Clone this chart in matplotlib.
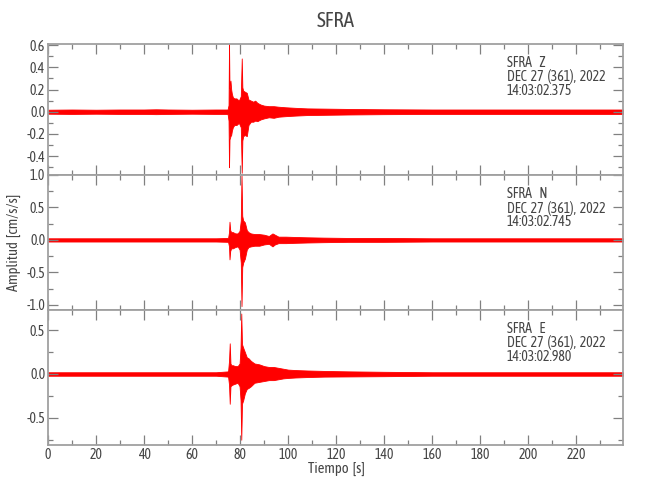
import matplotlib
matplotlib.use("Agg")
import matplotlib.pyplot as plt
from matplotlib import font_manager
from matplotlib.ticker import MultipleLocator, FormatStrFormatter

# pick a narrow font if one is available
_fonts = font_manager.fontManager.ttflist
_names = {f.name for f in _fonts}
font_stretch = 'normal'
if 'Liberation Sans Narrow' in _names:
    font_family = 'Liberation Sans Narrow'
elif any('Condensed' in n for n in _names):
    font_family = sorted(n for n in _names if 'Condensed' in n)[0]
elif any(f.name == 'DejaVu Sans' and f.stretch == 'condensed' for f in _fonts):
    font_family = 'DejaVu Sans'
    font_stretch = 'condensed'
elif 'Roboto' in _names:
    font_family = 'Roboto'
    font_stretch = 'condensed'
else:
    font_family = 'Liberation Sans'
plt.rcParams['font.family'] = [font_family, 'DejaVu Sans']
plt.rcParams['font.stretch'] = font_stretch

# ---------------- data (envelope of each trace) -------------
station = "SFRA"
components = ["Z", "N", "E"]
date_label = "DEC  27  (361),  2022"
start_times = ["14:03:02.375", "14:03:02.745", "14:03:02.980"]

t_z = [0, 10, 20, 30, 40, 45, 50, 60, 70,
       74.8, 75.2, 75.4, 75.6, 76.0, 76.3, 76.6, 77.0, 77.6,
       78.5, 79.5, 80.3, 80.7, 80.95, 81.3, 82.0, 82.8, 83.5,
       84.5, 85.5, 86.3, 87.2, 88.5, 90, 92, 94, 96, 99,
       103, 108, 115, 125, 140, 160, 180, 200, 220, 239.5]
up_z = [0.018, 0.02, 0.018, 0.02, 0.02, 0.022, 0.02, 0.018, 0.02,
        0.02, 0.06, 0.61, 0.21, 0.28, 0.2, 0.16, 0.13, 0.12,
        0.12, 0.1, 0.14, 0.48, 0.22, 0.19, 0.18, 0.17, 0.11,
        0.1, 0.09, 0.1, 0.08, 0.065, 0.055, 0.05, 0.05, 0.045, 0.04,
        0.035, 0.03, 0.028, 0.025, 0.022, 0.02, 0.02, 0.02, 0.02, 0.02]
lo_z = [-0.018, -0.02, -0.018, -0.02, -0.02, -0.022, -0.02, -0.018, -0.02,
        -0.02, -0.08, -0.50, -0.25, -0.22, -0.21, -0.17, -0.14, -0.12,
        -0.12, -0.1, -0.14, -0.55, -0.26, -0.22, -0.21, -0.22, -0.12,
        -0.09, -0.09, -0.08, -0.085, -0.07, -0.06, -0.05, -0.055, -0.045, -0.04,
        -0.035, -0.03, -0.028, -0.025, -0.022, -0.02, -0.02, -0.02, -0.02, -0.02]

t_n = [0, 10, 20, 30, 40, 50, 60, 70,
       75.0, 75.4, 75.6, 75.9, 76.3, 77.0, 78.0, 79.0, 79.8, 80.3,
       80.6, 80.9, 81.3, 82.0, 82.8, 83.5, 84.5, 86, 88, 90,
       92, 93.5, 94.5, 96, 99, 103, 108, 115, 125, 140,
       160, 180, 200, 220, 239.5]
up_n = [0.025, 0.025, 0.025, 0.025, 0.025, 0.025, 0.025, 0.025,
        0.03, 0.12, 0.28, 0.15, 0.12, 0.12, 0.1, 0.1, 0.14, 0.3,
        1.0, 0.37, 0.3, 0.27, 0.15, 0.12, 0.1, 0.09, 0.09, 0.08,
        0.06, 0.1, 0.08, 0.05, 0.05, 0.045, 0.04, 0.035, 0.03, 0.03,
        0.025, 0.025, 0.025, 0.025, 0.025]
lo_n = [-0.025, -0.025, -0.025, -0.025, -0.025, -0.025, -0.025, -0.025,
        -0.03, -0.1, -0.30, -0.17, -0.13, -0.13, -0.11, -0.1, -0.15, -0.35,
        -1.02, -0.42, -0.35, -0.29, -0.15, -0.11, -0.1, -0.09, -0.09, -0.07,
        -0.06, -0.1, -0.07, -0.05, -0.05, -0.045, -0.04, -0.035, -0.03, -0.03,
        -0.025, -0.025, -0.025, -0.025, -0.025]

t_e = [0, 10, 20, 30, 40, 50, 60, 70,
       75.0, 75.4, 75.7, 76.0, 76.4, 77.0, 78.0, 79.0, 79.8, 80.2,
       80.5, 80.8, 81.3, 82.0, 82.8, 83.5, 84.5, 86, 88, 90,
       92, 94, 96, 98, 100, 103, 108, 115, 125, 140,
       160, 180, 200, 220, 239.5]
up_e = [0.02, 0.02, 0.02, 0.02, 0.02, 0.02, 0.02, 0.02,
        0.03, 0.15, 0.35, 0.12, 0.1, 0.1, 0.09, 0.09, 0.12, 0.3,
        0.69, 0.34, 0.3, 0.25, 0.19, 0.18, 0.15, 0.12, 0.11, 0.09,
        0.08, 0.08, 0.07, 0.06, 0.05, 0.045, 0.04, 0.035, 0.03, 0.025,
        0.02, 0.02, 0.02, 0.02, 0.02]
lo_e = [-0.02, -0.02, -0.02, -0.02, -0.02, -0.02, -0.02, -0.02,
        -0.03, -0.12, -0.34, -0.14, -0.13, -0.12, -0.11, -0.1, -0.14, -0.3,
        -0.75, -0.34, -0.3, -0.22, -0.17, -0.16, -0.14, -0.1, -0.09, -0.08,
        -0.07, -0.07, -0.06, -0.05, -0.045, -0.04, -0.035, -0.03, -0.028, -0.025,
        -0.02, -0.02, -0.02, -0.02, -0.02]

ylims = [(-0.57, 0.61), (-1.08, 1.0), (-0.81, 0.73)]
ymajor = [0.2, 0.5, 0.5]
yminor = [0.1, 0.25, 0.25]
xlim = (0, 239.5)

traces = [(t_z, up_z, lo_z), (t_n, up_n, lo_n), (t_e, up_e, lo_e)]

# ---------------- figure ----------------
W, H = 650, 500
fig = plt.figure(figsize=(6.5, 5), dpi=100)
left_px, right_px = 48, 623
bounds_px = [(44, 175), (175, 310), (310, 445)]

axis_col = '#a0a0a0'
text_col = '#454545'

for i, ((t, up, lo), (top, bot)) in enumerate(zip(traces, bounds_px)):
    ax = fig.add_axes([left_px / W, 1 - bot / H, (right_px - left_px) / W, (bot - top) / H])
    ax.fill_between(t, lo, up, color='red', lw=0.6, edgecolor='red')
    ax.set_xlim(*xlim)
    ax.set_ylim(*ylims[i])
    ax.xaxis.set_major_locator(MultipleLocator(20))
    ax.xaxis.set_minor_locator(MultipleLocator(10))
    ax.yaxis.set_major_locator(MultipleLocator(ymajor[i]))
    ax.yaxis.set_minor_locator(MultipleLocator(yminor[i]))
    ax.yaxis.set_major_formatter(FormatStrFormatter('%.1f'))
    ax.tick_params(which='both', direction='in', top=True, right=True,
                   color='#808080', labelcolor=text_col, labelsize=10, pad=2)
    ax.tick_params(which='major', length=7.2, width=0.9)
    ax.tick_params(which='minor', length=3.6, width=0.9)
    for s in ax.spines.values():
        s.set_color(axis_col)
        s.set_linewidth(1.3)
    if i < 2:
        ax.tick_params(labelbottom=False)
    hpx = bot - top
    lines = [f"{station}    {components[i]}", date_label, start_times[i]]
    for j, (txt, off) in enumerate(zip(lines, [19, 33, 47])):
        ax.text((507 - left_px) / (right_px - left_px), 1 - off / hpx, txt,
                transform=ax.transAxes, ha='left', va='center',
                fontsize=10, color=text_col)

fig.text(336 / W, 1 - 21 / H, station, ha='center', va='center', fontsize=15, color=text_col)
fig.text(336 / W, 1 - 469 / H, "Tiempo  [s]", ha='center', va='center', fontsize=10.5, color=text_col)
fig.text(14 / W, 1 - 242 / H, "Amplitud  [cm/s/s]", ha='center', va='center',
         rotation=90, fontsize=10.5, color=text_col)

fig.savefig("out.png", dpi=100)
